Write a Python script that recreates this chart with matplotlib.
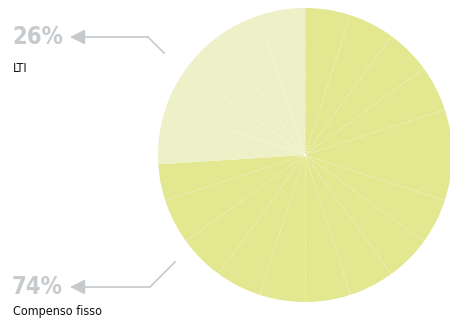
import matplotlib.pyplot as plt
import numpy as np

labels = ['Compenso fisso', 'LTI']
shares = [74, 26]
colors = ['#e3e790', '#eef1c8']

W, H = 450, 326
center = (305, H - 155)
radius = 147

fig = plt.figure(figsize=(4.5, 3.26), dpi=100)
ax = fig.add_axes([0, 0, 1, 1])

ax.pie(shares, colors=colors, startangle=90, counterclock=False,
       center=center, radius=radius, frame=True,
       wedgeprops=dict(linewidth=0))
ax.set_xlim(0, W)
ax.set_ylim(0, H)
ax.set_aspect('equal')
ax.axis('off')

# faint radial guides every 18 degrees
for a in np.arange(0, 360, 18):
    if a in (0, 180):
        continue
    t = np.radians(a)
    ax.plot([center[0], center[0] + radius * np.cos(t)],
            [center[1], center[1] + radius * np.sin(t)],
            color='white', lw=0.6, alpha=0.55, ls=(0, (2, 1.5)))

grey = '#c6cacd'

def callout(pct, name, y_pct, y_name, tip_x, elbow, end):
    ax.text(12, H - y_pct, f'{pct}%', fontsize=17, fontweight='bold',
            color=grey, family='DejaVu Sans', stretch='condensed',
            va='center', ha='left')
    ax.text(13, H - y_name, name, fontsize=9, color='#111111',
            family='DejaVu Sans', stretch='condensed', va='center', ha='left')
    ax.annotate('', xy=(tip_x, H - y_pct), xytext=(elbow, H - y_pct),
                arrowprops=dict(arrowstyle='-|>,head_length=0.9,head_width=0.45',
                                color=grey, lw=1.2, shrinkA=0, shrinkB=0))
    ax.plot([elbow, end[0]], [H - y_pct, H - end[1]], color=grey, lw=1.2)

callout(shares[1], labels[1], 37, 69, 70, 148, (164, 53))
callout(shares[0], labels[0], 287, 311, 70, 150, (175, 262))

fig.savefig('out.png', dpi=100)
